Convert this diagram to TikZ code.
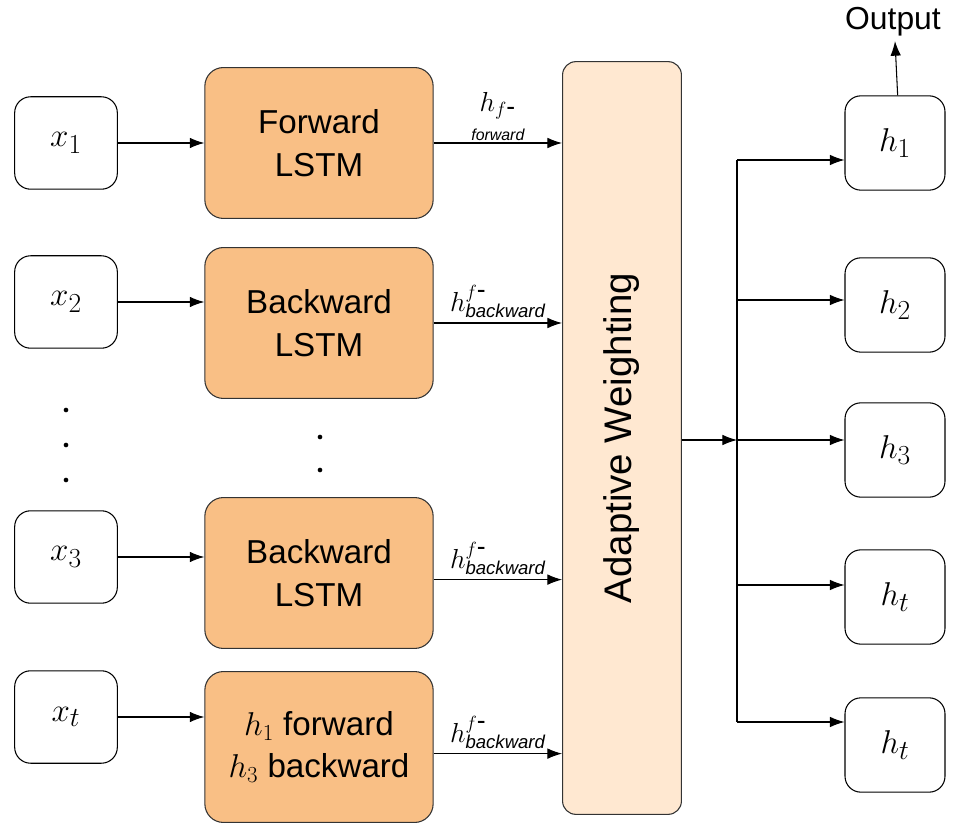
\documentclass[tikz,border=0pt]{standalone}
\usepackage{fontspec}
\setmainfont{Liberation Sans}
\usetikzlibrary{arrows.meta}
\begin{document}
\begin{tikzpicture}[x=0.0265cm,y=-0.0265cm,
lstm/.style={draw=black!80, thick, rounded corners=14pt, fill=orange!45!white!90!brown, inner sep=0pt, align=center, font=\fontsize{25}{32}\selectfont},
arr/.style={-{Latex[length=11pt,width=8pt]}, thick},
lbl/.style={font=\fontsize{20}{22}\selectfont, anchor=south},
dot/.style={circle, fill=black, inner sep=0pt, minimum width=3.5pt},
]
\useasboundingbox (0,0) rectangle (958,840);

% inputs
\foreach \n/\t/\y in {xa/x_1/143, xb/x_2/302, xc/x_3/557, xd/x_t/717}
  \node[draw, thick, rounded corners=12pt, minimum width=2.72cm, minimum height=2.45cm, font=\fontsize{30}{30}\selectfont] (\n) at (66,\y) {$\t$};

% LSTM blocks
\foreach \n/\t/\y in {la/{Forward\\LSTM}/143, lb/{Backward\\LSTM}/323, lc/{Backward\\LSTM}/573, ld/{$h_1$ forward\\$h_3$ backward}/747}
  \node[lstm, minimum width=6.05cm, minimum height=4.0cm] (\n) at (319,\y) {\t};

% adaptive weighting
\node[draw=black!80, thick, rounded corners=10pt, fill=orange!18, minimum width=3.15cm, minimum height=19.95cm] (aw) at (622,438) {};
\node[rotate=90, font=\fontsize{29}{30}\selectfont] at (aw.center) {Adaptive Weighting};

% outputs
\foreach \n/\t/\y in {ha/h_1/143, hb/h_2/305, hc/h_3/450, hd/h_t/597, he/h_t/745}
  \node[draw, thick, rounded corners=12pt, minimum width=2.65cm, minimum height=2.5cm, font=\fontsize{30}{30}\selectfont] (\n) at (895,\y) {$\t$};

% dots
\foreach \y in {410,445,480} \node[dot] at (66,\y) {};
\foreach \y in {437,470} \node[dot] at (320,\y) {};

% input arrows
\draw[arr] (xa) -- (la);
\draw[arr] (xb) -- (xb -| lb.west);
\draw[arr] (xc) -- (xc -| lc.west);
\draw[arr] (xd) -- (xd -| ld.west);

% to weighting
\draw[arr] (la.east) -- (la.east -| aw.west) node[lbl, pos=0.5, yshift=14pt] {$h_{f\mbox{-}}$} node[lbl, pos=0.5, yshift=-2pt, font=\fontsize{12}{12}\selectfont\itshape] {forward};
\draw[arr] (lb.east) -- (lb.east -| aw.west) node[lbl, pos=0.5] {$h^{f\mbox{-}}_{\mathit{backward}}$};
\draw[arr] ([yshift=-5]lc.east) -- ([yshift=-5]lc.east -| aw.west) node[lbl, pos=0.5] {$h^{f\mbox{-}}_{\mathit{backward}}$};
\draw[arr] ([yshift=-5]ld.east) -- ([yshift=-5]ld.east -| aw.west) node[lbl, pos=0.5] {$h^{f\mbox{-}}_{\mathit{backward}}$};

% bus
\coordinate (bus) at (737,440);
\coordinate (bt) at (737,160);
\coordinate (bb) at (737,722);
\draw[arr] (aw.east |- bus) -- (bus);
\draw[thick] (bt) -- (bb);
\foreach \n/\y in {ha/160, hb/300, hc/440, hd/585, he/722}
  \draw[arr] (737,\y) -- (\n.west |- 0,\y);

% output
\node[font=\fontsize{24}{24}\selectfont] (out) at (893,22) {Output};
\draw[arr] ([xshift=2]ha.north) -- (out.south -| ha.north);
\end{tikzpicture}
\end{document}
